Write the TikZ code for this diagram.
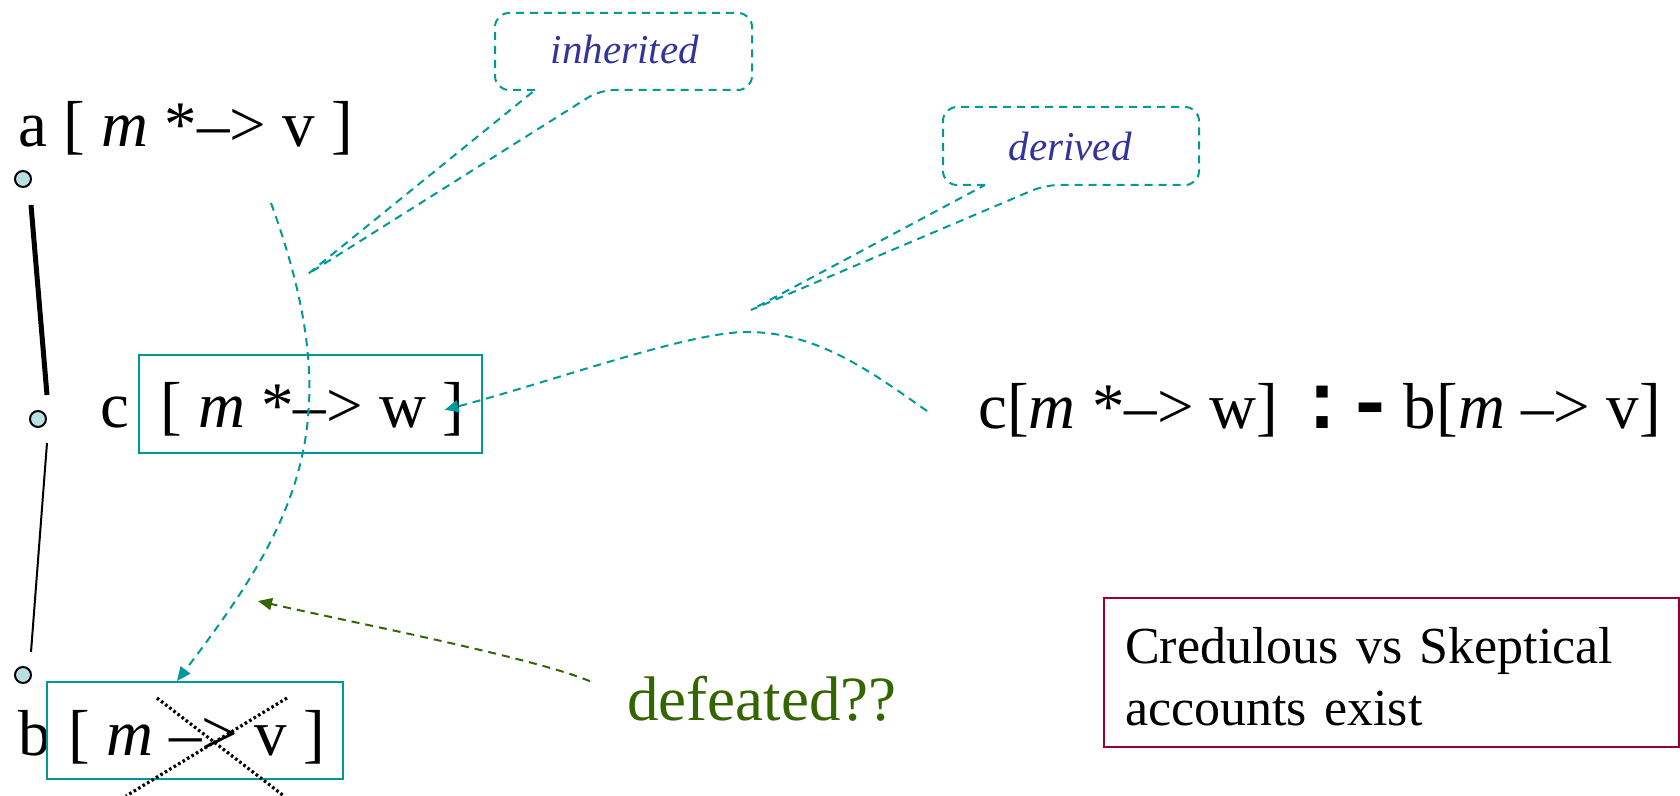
\documentclass[tikz,border=0pt]{standalone}
\usepackage{fontspec}
\setmainfont{Liberation Serif}
\setmonofont{Liberation Mono}
\usepackage{xcolor}
\usetikzlibrary{arrows.meta,calc}
\definecolor{tealc}{HTML}{009999}
\definecolor{inkblue}{HTML}{333399}
\definecolor{defgreen}{HTML}{336600}
\definecolor{boxred}{HTML}{990033}
\definecolor{dotfill}{HTML}{B8E0E0}

\begin{document}
\begin{tikzpicture}[x=0.5pt,y=-0.5pt,>={Triangle[length=7pt,width=6pt]},font=\fontsize{32.5}{38}\selectfont]
 \tikzset{txt/.style={anchor=base west,inner sep=0pt},
          dot/.style={circle,draw,line width=1pt,fill=dotfill,inner sep=0pt,minimum size=8pt},
          tealbox/.style={draw=tealc,line width=1pt,inner sep=0pt},
          crossline/.style={line width=1.6pt,dash pattern=on 1.3pt off 1.3pt},
          calltxt/.style={anchor=base,inner sep=0pt,text=inkblue,font=\fontsize{20.5}{25}\selectfont\itshape},
          callout/.style={draw=tealc,line width=1pt,dash pattern=on 4pt off 3pt},
          arr/.style={->,draw=tealc,line width=1pt,dash pattern=on 4pt off 3pt},
          defarr/.style={->,draw=defgreen,line width=1pt,dash pattern=on 4pt off 3pt}}
 \useasboundingbox (0,0) rectangle (1680,796);
 \node[dot] (da) at (23,179) {};
 \node[dot] (dc) at (38,419) {};
 \node[dot] (db) at (23,675) {};
 \draw[line width=2.5pt] ([shift={(8,26)}]da.center) -- ([shift={(9,-24)}]dc.center);
 \draw[line width=1pt] ([shift={(9,24)}]dc.center) -- ([shift={(8,-23)}]db.center);
 \node[txt] (atxt) at (18,147) {a [ \textit{m} *–> v ]};
 \node[txt] (clab) at (100,428) {c};
 \node[tealbox,minimum width=171.5pt,minimum height=49pt] (cbox) at (310.5,404) {};
 \node[txt] (ctxt) at (160,428) {[ \textit{m} *–> w ]};
 \node[txt] (blab) at (18,755) {b};
 \node[tealbox,minimum width=148pt,minimum height=48.5pt] (bbox) at (195,730.5) {};
 \node[txt] (btxt) at (68,755) {[ \textit{m} –> v ]};
 \draw[crossline] (157,698) -- (284,796);
 \draw[crossline] (287,698) -- (126,796);
 \node[txt] (rule) at (978,429) {c[\textit{m} *–> w]\hspace{0.3em}{\fontsize{40}{40}\selectfont\texttt{\textbf{:-}}}\hspace{0.15em}b[\textit{m} –> v]};
 \node[calltxt] (inh) at (625,64) {inherited};
 \draw[callout] (535,90) [rounded corners=7pt] -- (495,90) -- (495,13) -- (752,13) -- (752,90) -- (600,90) [sharp corners] -- (308,274) -- cycle;
 \node[calltxt] (der) at (1070,161) {derived};
 \draw[callout] (985,185) [rounded corners=7pt] -- (943,185) -- (943,107) -- (1199,107) -- (1199,185) -- (1045,185) [sharp corners] -- (751,310) -- cycle;
 \coordinate (inhfrom) at (271,203);
 \coordinate (derfrom) at (927,411);
 \coordinate (defto) at (258,601);
 \draw[arr] (inhfrom) .. controls (350,420) and (300,520) .. ([xshift=-9pt]bbox.north);
 \draw[arr] (derfrom) .. controls (870,371) and (817,332) .. (747,332) .. controls (687,332) and (548,383) .. ([xshift=-10pt]ctxt.east);
 \node[txt,text=defgreen,font=\fontsize{31.5}{38}\selectfont] (def) at (627,720) {defeated??};
 \draw[defarr] ([shift={(-37,6)}]def.north west) .. controls (535,658) and (355,623) .. (defto);
 \node[draw=boxred,line width=1pt,minimum width=287.5pt,minimum height=74.5pt,text width=266.5pt,inner xsep=10.5pt,align=left,font=\fontsize{26}{31.25}\selectfont] (cred) at (1391.5,672.5) {\rule{0pt}{22pt}Credulous vs Skeptical\\accounts exist};
\end{tikzpicture}
\end{document}
